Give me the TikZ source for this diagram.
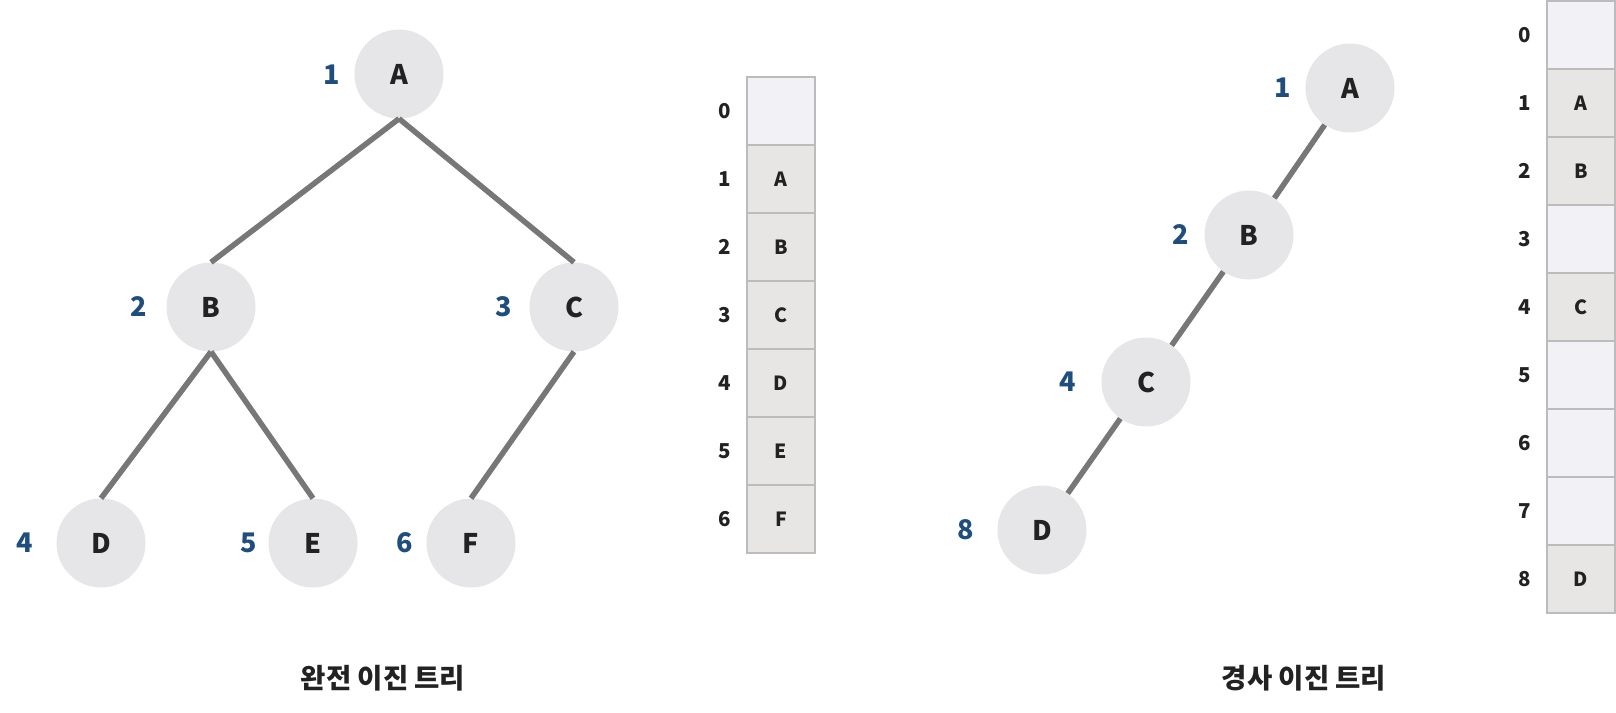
\documentclass[tikz,border=0pt]{standalone}
\usepackage{fontspec}
\setmainfont{Noto Sans CJK KR}
\definecolor{nodefill}{HTML}{E6E5E7}
\definecolor{cellgray}{HTML}{E8E6E5}
\definecolor{celllight}{HTML}{F2F1F6}
\definecolor{cellborder}{HTML}{BDBCBC}
\definecolor{numblue}{HTML}{1F4E7C}
\definecolor{txt}{HTML}{222222}
\definecolor{edgegray}{HTML}{777777}
\begin{document}
\begin{tikzpicture}[x=1pt,y=-1pt,
  circ/.style={circle, fill=nodefill, minimum size=89pt, inner sep=0pt, text=txt, font=\fontsize{27}{27}\selectfont\bfseries},
  num/.style={text=numblue, inner sep=0pt, font=\fontsize{27}{27}\selectfont\bfseries},
  edge/.style={draw=edgegray, line width=5.5pt},
  cellbox/.style={draw=cellborder, line width=1.2pt, minimum width=68pt, minimum height=68pt, inner sep=0pt, text=txt, font=\fontsize{19.5}{19.5}\selectfont\bfseries},
  idxlab/.style={text=txt, inner sep=0pt, font=\fontsize{20.5}{20.5}\selectfont\bfseries},
  title/.style={text=txt, inner sep=0pt, font=\fontsize{27.5}{27.5}\selectfont\bfseries}]
\useasboundingbox (0,0) rectangle (1616,712);
% left tree
\node[circ] (lA) at (399,74) {A};
\node[circ] (lB) at (211,307) {B};
\node[circ] (lC) at (574,307) {C};
\node[circ] (lD) at (101,543) {D};
\node[circ] (lE) at (313,543) {E};
\node[circ] (lF) at (471,543) {F};
\node[num] (nA) at (332,75) {1};
\node[num] (nB) at (139,307) {2};
\node[num] (nC) at (504,307) {3};
\node[num] (nD) at (25,543) {4};
\node[num] (nE) at (249,543) {5};
\node[num] (nF) at (405,543) {6};
\draw[edge] (lA.south) -- (lB.north);
\draw[edge] (lA.south) -- (lC.north);
\draw[edge] (lB.south) -- (lD.north);
\draw[edge] (lB.south) -- (lE.north);
\draw[edge] (lC.south) -- (lF.north);
% left array
\foreach \i/\t/\f in {0//celllight,1/A/cellgray,2/B/cellgray,3/C/cellgray,4/D/cellgray,5/E/cellgray,6/F/cellgray}{
  \node[cellbox, fill=\f] (L\i) at (781,111+68*\i) {\t};
  \node[idxlab] (Li\i) at (725,111+68*\i) {\i};
}
\node[title] (t1) at (383,678) {완전 이진 트리};
% right tree
\node[circ] (rA) at (1350,88) {A};
\node[circ] (rB) at (1249,235) {B};
\node[circ] (rC) at (1146,382) {C};
\node[circ] (rD) at (1042,530) {D};
\node[num] (mA) at (1283,88) {1};
\node[num] (mB) at (1181,235) {2};
\node[num] (mC) at (1068,382) {4};
\node[num] (mD) at (966,530) {8};
\draw[edge] (rA) -- (rB);
\draw[edge] (rB) -- (rC);
\draw[edge] (rC) -- (rD);
% right array
\foreach \i/\t/\f in {0//celllight,1/A/cellgray,2/B/cellgray,3//celllight,4/C/cellgray,5//celllight,6//celllight,7//celllight,8/D/cellgray}{
  \node[cellbox, fill=\f] (R\i) at (1581,35+68*\i) {\t};
  \node[idxlab] (Ri\i) at (1525,35+68*\i) {\i};
}
\node[title] (t2) at (1304,678) {경사 이진 트리};
\end{tikzpicture}
\end{document}
